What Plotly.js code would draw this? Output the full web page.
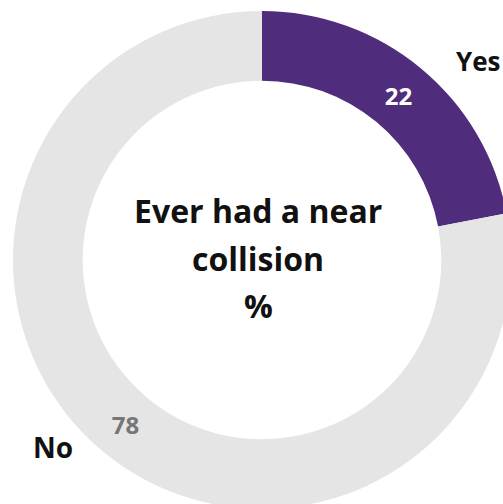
<!DOCTYPE html>
<html>
<head>
<meta charset="utf-8">
<script src="https://cdn.plot.ly/plotly-3.0.1.min.js"></script>
<style>
html,body{margin:0;padding:0;overflow:hidden;background:#fff;}
#chart{width:520px;height:520px;}
</style>
</head>
<body>
<div id="chart"></div>
<script>
var categories = ["Yes", "No"];
var values = [22, 78];
var sliceColors = ["#502D7C", "#E5E5E5"];
var valueColors = ["#FFFFFF", "#767676"];
var centerLines = ["Ever had a near", "collision", "%"];

var W = 520, H = 520;
var FONT = "'Open Sans', sans-serif";
function px(x){ return x / W; }
function py(y){ return 1 - y / H; }

var data = [{
  type: "pie",
  labels: categories,
  values: values,
  hole: 0.72,
  sort: false,
  direction: "clockwise",
  rotation: 0,
  marker: {colors: sliceColors, line: {color: "#FFFFFF", width: 0}},
  texttemplate: "%{value}",
  textinfo: "value",
  textposition: "inside",
  insidetextorientation: "horizontal",
  insidetextfont: {family: FONT, size: 24, color: valueColors, weight: "bold"},
  hoverinfo: "none",
  domain: {x: [px(13), px(511)], y: [py(509), py(11)]},
  showlegend: false
}];

var annotations = [];
var centerY = [210, 258, 305];
centerLines.forEach(function(t, i){
  annotations.push({
    text: "<b>" + t + "</b>", xref: "paper", yref: "paper",
    x: px(258), y: py(centerY[i]), xanchor: "center", yanchor: "middle",
    showarrow: false, font: {family: FONT, size: 32, color: "#111111"}
  });
});
annotations.push({
  text: "<b>" + categories[0] + "</b>", xref: "paper", yref: "paper",
  x: px(478), y: py(61), xanchor: "center", yanchor: "middle",
  showarrow: false, font: {family: FONT, size: 26, color: "#111111"}
});
annotations.push({
  text: "<b>" + categories[1] + "</b>", xref: "paper", yref: "paper",
  x: px(53), y: py(447), xanchor: "center", yanchor: "middle",
  showarrow: false, font: {family: FONT, size: 28, color: "#111111"}
});

var layout = {
  width: W, height: H,
  margin: {l: 0, r: 0, t: 0, b: 0},
  paper_bgcolor: "#FFFFFF",
  plot_bgcolor: "#FFFFFF",
  annotations: annotations,
  showlegend: false
};

Plotly.newPlot("chart", data, layout, {displayModeBar: false, staticPlot: true});
</script>
</body>
</html>
